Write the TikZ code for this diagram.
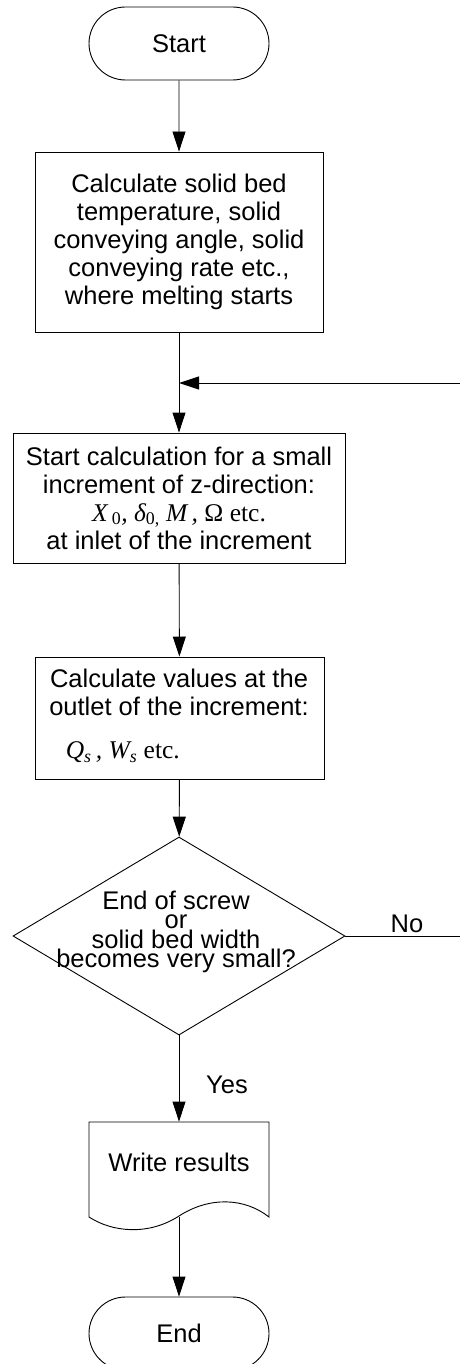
\documentclass[tikz,border=0pt]{standalone}
\usepackage{fontspec}
\setmainfont{Liberation Sans}
\newfontfamily\timesfont{Liberation Serif}
\usetikzlibrary{shapes.misc,shapes.geometric,arrows.meta}

\begin{document}
\begin{tikzpicture}[x=1pt,y=1pt,
    font=\fontsize{25.5}{28}\selectfont,
    line width=0.9pt,
    term/.style={draw,rounded rectangle,minimum width=180pt,minimum height=73pt,inner sep=0pt},
    proc/.style={draw,rectangle,align=center,inner sep=0pt},
    dec/.style={draw,diamond,minimum width=332pt,minimum height=198pt,inner sep=0pt},
    arr/.style={-{Triangle[length=20pt,width=13pt]}}]
          \useasboundingbox (0,0) rectangle (460,-1364);

          % Start
          \node[term] (start) at (179,-43.5) {Start};

          % Anfangswerte
          \node[proc,minimum width=288pt,minimum height=180pt] (init) at (179,-242)
            {Calculate solid bed\\temperature, solid\\conveying angle, solid\\conveying rate etc.,\\where melting starts};

          % Inkrement
          \node[proc,minimum width=332pt,minimum height=130pt] (incr) at (179,-498)
            {Start calculation for a small\\increment of z-direction:\\
             {\timesfont\itshape X\,\textsubscript{\upshape 0}, δ\textsubscript{\upshape 0,} M\,, \upshape Ω etc.}\\at inlet of the increment};

          % Werte am Auslass
          \node[proc,minimum width=289pt,minimum height=122pt] (outlet) at (179.5,-718) {};
          \node (outtxt) at (179,-692.5) [align=center] {Calculate values at the\\outlet of the increment:};
          \node[anchor=west] (outvar) at (62,-752) {\timesfont\itshape Q\textsubscript{s}\,, W\textsubscript{s} \upshape etc.};

          % Abfrage
          \node[dec] (dec) at (179,-936) {};
          \node[align=center,font=\fontsize{25.5}{19.5}\selectfont] (dectxt) at (176,-932)
            {End of screw\\or\\solid bed width\\becomes very small?};
          \node[anchor=base] (yes) at (227,-1093) {Yes};
          \node[anchor=base] (no) at (407,-932) {No};

          % Ausgabe
          \node[minimum width=180pt,minimum height=95pt,inner sep=0pt,text depth=15pt] (write) at (179,-1169.5) {Write results};
          \draw (89,-1122) -- (269,-1122) -- (269,-1217)
            .. controls (245,-1198) and (210,-1196) .. (179,-1216)
            .. controls (148,-1236) and (112,-1232) .. (89,-1217) -- cycle;

          % Ende
          \node[term] (end) at (179,-1333.5) {End};

          % Verbindungen
          \coordinate (back) at (460,-383);
          \coordinate (join) at (179,-383);
          \coordinate (exit) at (460,-936);
          \draw[arr] (start) -- (init);
          \draw[arr] (init) -- (incr);
          \draw[arr] (back) -- (join);
          \draw[arr] (incr) -- (outlet);
          \draw[arr] (outlet) -- (dec);
          \draw (dec) -- (exit);
          \draw[arr] (dec) -- (write);
          \draw[arr] (write) -- (end);
        \end{tikzpicture}
\end{document}
